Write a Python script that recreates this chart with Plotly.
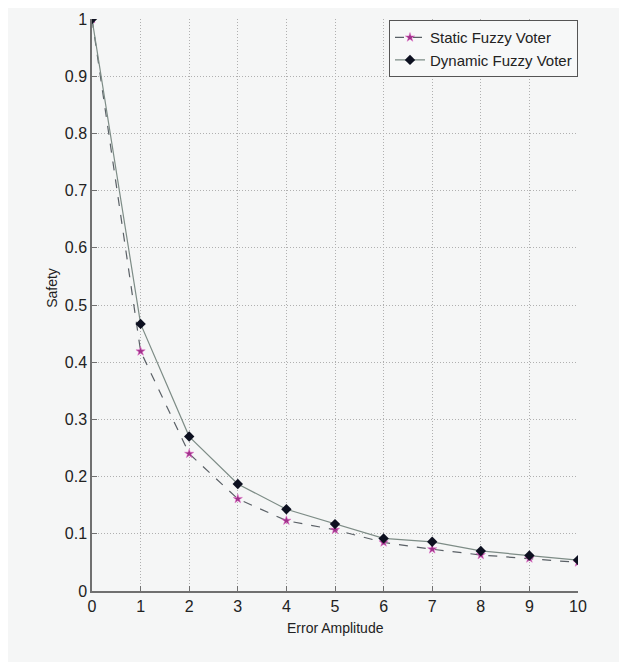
import plotly.graph_objects as go

error_amplitude = [0, 1, 2, 3, 4, 5, 6, 7, 8, 9, 10]
static_fuzzy = [1.0, 0.419, 0.240, 0.161, 0.123, 0.107, 0.085, 0.073, 0.063, 0.057, 0.050]
dynamic_fuzzy = [1.0, 0.467, 0.270, 0.187, 0.143, 0.117, 0.092, 0.086, 0.070, 0.062, 0.054]

x_ticks = list(range(0, 11))
y_ticks = [0, 0.1, 0.2, 0.3, 0.4, 0.5, 0.6, 0.7, 0.8, 0.9, 1]
y_tick_labels = ["0", "0.1", "0.2", "0.3", "0.4", "0.5", "0.6", "0.7", "0.8", "0.9", "1"]

font_family = "Liberation Sans Narrow, Arial Narrow, Liberation Sans, Arial, sans-serif"
grid_dash = "1px,2px"

fig = go.Figure()
fig.add_trace(go.Scatter(
    x=error_amplitude, y=static_fuzzy, name="Static Fuzzy Voter",
    mode="lines+markers",
    line=dict(color="#5a6066", width=1.2, dash="dash"),
    marker=dict(symbol="star", size=7, color="#a0308a", line=dict(color="#e070c8", width=0.5)),
))
fig.add_trace(go.Scatter(
    x=error_amplitude, y=dynamic_fuzzy, name="Dynamic Fuzzy Voter",
    mode="lines+markers",
    line=dict(color="#7d8c86", width=1.2),
    marker=dict(symbol="diamond", size=8, color="#0d1020"),
))

fig.update_layout(
    width=619, height=654,
    paper_bgcolor="#f5f6f6", plot_bgcolor="#f5f6f6",
    margin=dict(l=84, r=49, t=11, b=71),
    font=dict(family=font_family, size=14, color="#222222"),
    showlegend=True,
    legend=dict(
        x=1, y=0.998, xanchor="right", yanchor="top",
        bgcolor="#f7f8f8", bordercolor="#555555", borderwidth=1,
        font=dict(size=15, family=font_family),
        tracegroupgap=0, itemwidth=30,
    ),
    xaxis=dict(
        range=[0, 10], tickvals=x_ticks, automargin=False,
        showgrid=True, gridcolor="#b0b0b0", griddash=grid_dash, gridwidth=1,
        showline=True, linecolor="#707070", linewidth=1.5,
        ticks="inside", ticklen=5, tickcolor="#707070",
        zeroline=False, mirror=False,
        tickfont=dict(size=16),
    ),
    yaxis=dict(
        range=[0, 1], tickvals=y_ticks, ticktext=y_tick_labels, automargin=False,
        showgrid=True, gridcolor="#b0b0b0", griddash=grid_dash, gridwidth=1,
        showline=True, linecolor="#707070", linewidth=1.5,
        ticks="inside", ticklen=5, tickcolor="#707070",
        zeroline=False, mirror=False,
        tickfont=dict(size=16),
    ),
    annotations=[
        dict(text="Error Amplitude", xref="paper", yref="paper", x=0.5, y=0,
             xanchor="center", yanchor="middle", yshift=-37, showarrow=False,
             font=dict(size=14)),
        dict(text="Safety", xref="paper", yref="paper", x=0, y=0.53,
             xanchor="center", yanchor="middle", xshift=-40, showarrow=False,
             textangle=-90, font=dict(size=14)),
    ],
)

fig.write_html("out.html")
